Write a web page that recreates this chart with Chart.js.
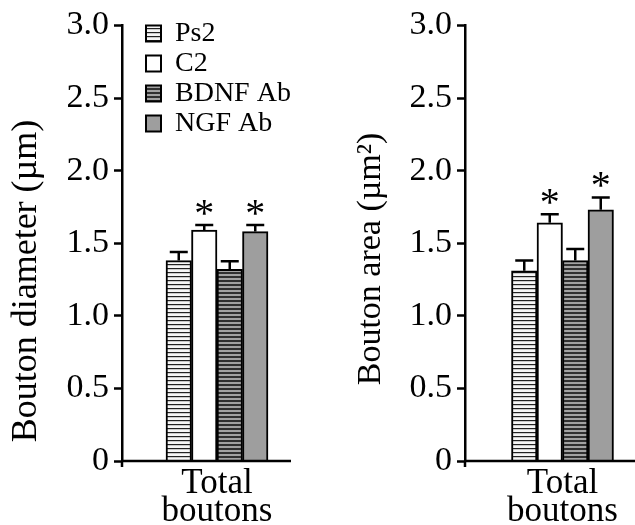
<!DOCTYPE html>
<html>
<head>
<meta charset="utf-8">
<script src="https://cdn.jsdelivr.net/npm/chart.js@4.4.1/dist/chart.umd.min.js"></script>
<style>
  html, body { margin: 0; padding: 0; background: #fff; overflow: hidden; }
  #wrap { position: relative; width: 635px; height: 525px; overflow: hidden; }
  canvas { position: absolute; top: 0; }
  #diameterChart { left: 0; }
  #areaChart { left: 318px; }
</style>
</head>
<body>
<div id="wrap">
  <canvas id="diameterChart" width="318" height="525"></canvas>
  <canvas id="areaChart" width="345" height="525"></canvas>
</div>
<script>
const groups = ['Ps2', 'C2', 'BDNF Ab', 'NGF Ab'];
const category = [['Total', 'boutons']];
const yTicks = ['0', '0.5', '1.0', '1.5', '2.0', '2.5', '3.0'];

// bouton diameter (um), mean and s.e.m.
const diameterMeans = [1.38, 1.59, 1.32, 1.58];
const diameterErrors = [0.06, 0.035, 0.055, 0.045];
const diameterSig = [false, true, false, true];

// bouton area (um^2)
const areaMeans = [1.31, 1.64, 1.38, 1.73];
const areaErrors = [0.07, 0.06, 0.08, 0.085];
const areaSig = [false, true, false, true];

const serif = "'Liberation Serif', 'Times New Roman', serif";
Chart.defaults.font.family = serif;
Chart.defaults.color = '#000';

function stripes(bg, line, lineH, period) {
  const c = document.createElement('canvas');
  c.width = 4;
  c.height = period;
  const x = c.getContext('2d');
  x.fillStyle = bg;
  x.fillRect(0, 0, 4, period);
  x.fillStyle = line;
  x.fillRect(0, 0, 4, lineH);
  return x.createPattern(c, 'repeat');
}

const fills = [
  stripes('#f6f6f6', '#222222', 1.2, 4),
  '#ffffff',
  stripes('#a2a2a2', '#303030', 2, 4),
  '#9e9e9e'
];

// error bars + asterisks
const errorBars = {
  id: 'errorBars',
  afterDatasetsDraw(chart) {
    const ctx = chart.ctx;
    const y = chart.scales.y;
    chart.data.datasets.forEach((ds, i) => {
      const meta = chart.getDatasetMeta(i);
      meta.data.forEach((bar, j) => {
        const top = y.getPixelForValue(ds.data[j]);
        const cap = y.getPixelForValue(ds.data[j] + ds.errors[j]);
        ctx.save();
        ctx.strokeStyle = '#000';
        ctx.lineWidth = 2.5;
        ctx.beginPath();
        ctx.moveTo(bar.x, top);
        ctx.lineTo(bar.x, cap);
        ctx.moveTo(bar.x - 9, cap);
        ctx.lineTo(bar.x + 9, cap);
        ctx.stroke();
        if (ds.sig[j]) {
          ctx.fillStyle = '#000';
          ctx.font = '40px ' + serif;
          ctx.textAlign = 'center';
          ctx.textBaseline = 'middle';
          ctx.fillText('*', bar.x, cap - 10);
        }
        ctx.restore();
      });
    });
  }
};

// x axis line stops short of the chart area, y axis pokes below it
const axisLines = {
  id: 'axisLines',
  afterDraw(chart, args, opts) {
    const { ctx, chartArea } = chart;
    const y0 = chart.scales.y.getPixelForValue(0);
    ctx.save();
    ctx.strokeStyle = '#000';
    ctx.lineWidth = 2.5;
    ctx.beginPath();
    ctx.moveTo(chartArea.left, y0);
    ctx.lineTo(chartArea.left + opts.length, y0);
    ctx.moveTo(chartArea.left, y0);
    ctx.lineTo(chartArea.left, y0 + 6);
    ctx.stroke();
    ctx.restore();
  }
};

// rotated y title, centred a bit below the plot middle like the original
const axisTitle = {
  id: 'axisTitle',
  afterDraw(chart, args, opts) {
    const ctx = chart.ctx;
    ctx.save();
    ctx.translate(opts.x, opts.y);
    ctx.rotate(-Math.PI / 2);
    ctx.font = opts.size + 'px ' + serif;
    ctx.fillStyle = '#000';
    ctx.textAlign = 'center';
    ctx.textBaseline = 'alphabetic';
    ctx.fillText(opts.text, 0, 0);
    ctx.restore();
  }
};

const legendNudge = {
  id: 'legendNudge',
  afterLayout(chart, args, opts) {
    const lg = chart.legend;
    if (!lg || !chart.options.plugins.legend.display) return;
    lg.left = chart.chartArea.left + opts.dx;
    lg.top = chart.chartArea.top + opts.dy;
    lg.right = chart.chartArea.right;
    lg.bottom = chart.chartArea.bottom;
  }
};

function makeChart(id, title, means, errors, sig, o) {
  const ctx = document.getElementById(id).getContext('2d');
  return new Chart(ctx, {
    type: 'bar',
    data: {
      labels: category,
      datasets: groups.map((g, i) => ({
        label: g,
        data: [means[i]],
        errors: [errors[i]],
        sig: [sig[i]],
        backgroundColor: fills[i],
        borderColor: '#000',
        borderWidth: 2,
        barThickness: 25.5
      }))
    },
    options: {
      responsive: false,
      animation: false,
      layout: { padding: { left: o.padLeft, right: o.padRight, top: 24, bottom: 0 } },
      plugins: {
        legend: {
          display: o.legend,
          position: 'chartArea',
          align: 'start',
          labels: {
            boxWidth: 15,
            boxHeight: 16,
            padding: 2,
            font: { size: 28 },
            color: '#000'
          }
        },
        tooltip: { enabled: false },
        legendNudge: { dx: 22, dy: -8 },
        axisLines: { length: o.axisLen },
        axisTitle: { text: title, x: o.titleX, y: o.titleY, size: o.titleSize }
      },
      scales: {
        x: {
          grid: { display: false },
          border: { display: false },
          ticks: { font: { size: 35, lineHeight: 0.8 }, padding: 1, color: '#000' },
          afterFit: (s) => { s.height = 64; }
        },
        y: {
          min: 0,
          max: 3,
          ticks: {
            stepSize: 0.5,
            padding: 5,
            font: { size: 34 },
            color: '#000',
            callback: (v, i) => yTicks[i]
          },
          grid: { drawOnChartArea: false, tickLength: 8, tickWidth: 2.5, tickColor: '#000' },
          border: { display: true, color: '#000', width: 2.5 },
          afterFit: (s) => { s.width = 110; }
        }
      }
    },
    plugins: [errorBars, axisLines, legendNudge, axisTitle]
  });
}

makeChart('diameterChart', 'Bouton diameter (µm)', diameterMeans, diameterErrors, diameterSig,
  { padLeft: 12, padRight: 6, legend: true, axisLen: 169, titleX: 36, titleY: 281, titleSize: 36 });
makeChart('areaChart', 'Bouton area (µm²)', areaMeans, areaErrors, areaSig,
  { padLeft: 37, padRight: 3, legend: false, axisLen: 175, titleX: 62, titleY: 259, titleSize: 34 });
</script>
</body>
</html>
